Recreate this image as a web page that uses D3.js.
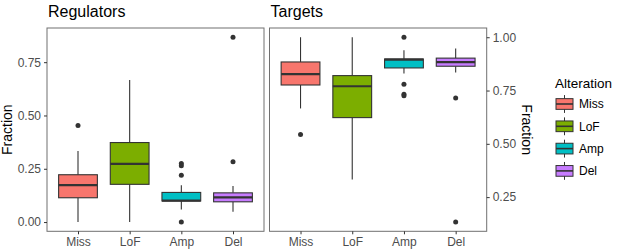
<!DOCTYPE html>
<html>
<head>
<meta charset="utf-8">
<script src="https://cdn.jsdelivr.net/npm/d3@7"></script>
<style>
  body { margin: 0; background: #fff; }
  text { font-family: 'Liberation Sans', Arial, sans-serif; }
</style>
</head>
<body>
<div id="chart"></div>
<script>
const categories = ['Miss', 'LoF', 'Amp', 'Del']
const colors = ['#F8766D', '#7CAE00', '#00BFC4', '#C77CFF']

// Regulators: Fuenf-Punkte-Zusammenfassung je Kategorie
const regLower = [0.000, 0.000, 0.059, 0.048]
const regQ1 = [0.114, 0.177, 0.099, 0.095]
const regMedian = [0.173, 0.273, 0.101, 0.116]
const regQ3 = [0.222, 0.373, 0.139, 0.137]
const regUpper = [0.333, 0.666, 0.173, 0.169]
const regOutliers = [[0.453], [], [0.275, 0.264, 0.219, 0.000], [0.283, 0.867]]

// Targets
const tarLower = [0.666, 0.333, 0.830, 0.835]
const tarQ1 = [0.776, 0.623, 0.856, 0.864]
const tarMedian = [0.827, 0.770, 0.895, 0.883]
const tarQ3 = [0.884, 0.820, 0.898, 0.902]
const tarUpper = [1.000, 1.000, 0.939, 0.947]
const tarOutliers = [[0.544], [], [1.000, 0.780, 0.733, 0.725], [0.715, 0.133]]

const yTicksLeft = [0, 0.25, 0.5, 0.75]
const yTicksRight = [0.25, 0.5, 0.75, 1]

const width = 617
const height = 251
const panelTop = 28
const panelBottom = 231.3
const boxWidth = 0.75
const lineColor = '#333333'

const toRows = (lower, q1, median, q3, upper, outliers) => categories.map((c, i) => ({
  cat: c,
  color: colors[i],
  lower: lower[i],
  q1: q1[i],
  median: median[i],
  q3: q3[i],
  upper: upper[i],
  outliers: outliers[i]
}))

const panels = [
  {
    title: 'Regulators', x0: 47, x1: 264, side: 'left', ticks: yTicksLeft,
    rows: toRows(regLower, regQ1, regMedian, regQ3, regUpper, regOutliers)
  },
  {
    title: 'Targets', x0: 269.5, x1: 486.7, side: 'right', ticks: yTicksRight,
    rows: toRows(tarLower, tarQ1, tarMedian, tarQ3, tarUpper, tarOutliers)
  }
]

const svg = d3.select('#chart').append('svg')
  .attr('width', width)
  .attr('height', height)

// wie ggplot: 5% Erweiterung des Datenbereichs
const expandedDomain = rows => {
  const vals = rows.flatMap(r => [r.lower, r.upper, ...r.outliers])
  const [lo, hi] = d3.extent(vals)
  const pad = (hi - lo) * 0.05
  return [lo - pad, hi + pad]
}

const fmt = d3.format('.2f')

panels.forEach(p => {
  const x = d3.scalePoint()
    .domain(categories)
    .range([p.x0, p.x1])
    .padding(0.6)
  const bw = x.step() * boxWidth

  const y = d3.scaleLinear()
    .domain(expandedDomain(p.rows))
    .range([panelBottom, panelTop])

  const g = svg.append('g')

  // Boxen
  const box = g.selectAll('g.box')
    .data(p.rows)
    .join('g')
    .attr('class', 'box')
    .attr('transform', d => `translate(${x(d.cat)},0)`)

  box.append('line')
    .attr('y1', d => y(d.upper))
    .attr('y2', d => y(d.q3))
    .attr('stroke', lineColor)
    .attr('stroke-width', 1.1)
  box.append('line')
    .attr('y1', d => y(d.q1))
    .attr('y2', d => y(d.lower))
    .attr('stroke', lineColor)
    .attr('stroke-width', 1.1)
  box.append('rect')
    .attr('x', -bw / 2)
    .attr('width', bw)
    .attr('y', d => y(d.q3))
    .attr('height', d => y(d.q1) - y(d.q3))
    .attr('fill', d => d.color)
    .attr('stroke', lineColor)
    .attr('stroke-width', 1.1)
  box.append('line')
    .attr('x1', -bw / 2)
    .attr('x2', bw / 2)
    .attr('y1', d => y(d.median))
    .attr('y2', d => y(d.median))
    .attr('stroke', lineColor)
    .attr('stroke-width', 2.2)
  box.selectAll('circle')
    .data(d => d.outliers)
    .join('circle')
    .attr('cy', v => y(v))
    .attr('r', 2.5)
    .attr('fill', lineColor)

  // Rahmen
  g.append('rect')
    .attr('x', p.x0)
    .attr('y', panelTop)
    .attr('width', p.x1 - p.x0)
    .attr('height', panelBottom - panelTop)
    .attr('fill', 'none')
    .attr('stroke', '#707070')
    .attr('stroke-width', 1)

  // x-Achse
  const xa = g.append('g')
    .attr('transform', `translate(0,${panelBottom})`)
    .call(d3.axisBottom(x).tickSize(3).tickPadding(3))
  xa.select('.domain').remove()

  // y-Achse
  const axis = p.side === 'left' ? d3.axisLeft(y) : d3.axisRight(y)
  const ya = g.append('g')
    .attr('transform', `translate(${p.side === 'left' ? p.x0 : p.x1},0)`)
    .call(axis.tickValues(p.ticks).tickFormat(fmt).tickSize(3).tickPadding(3))
  ya.select('.domain').remove()

  g.selectAll('.tick line').attr('stroke', lineColor)
  g.selectAll('.tick text')
    .attr('fill', '#4d4d4d')
    .style('font-size', '12px')
    .style('font-family', "'Liberation Sans', Arial, sans-serif")

  // Titel
  g.append('text')
    .attr('x', p.x0 + 1)
    .attr('y', 17)
    .attr('fill', '#000')
    .style('font-size', '16px')
    .text(p.title)
})

// Achsentitel
svg.append('text')
  .attr('transform', `translate(12,${(panelTop + panelBottom) / 2}) rotate(-90)`)
  .attr('text-anchor', 'middle')
  .style('font-size', '14px')
  .text('Fraction')

svg.append('text')
  .attr('transform', `translate(522,${(panelTop + panelBottom) / 2}) rotate(90)`)
  .attr('text-anchor', 'middle')
  .style('font-size', '14px')
  .text('Fraction')

// Legende
const legend = svg.append('g').attr('transform', 'translate(555,0)')
legend.append('text')
  .attr('x', 0)
  .attr('y', 88)
  .style('font-size', '13.5px')
  .text('Alteration')

const keyH = 22.3
const keyW = 17
const key = legend.selectAll('g.key')
  .data(categories.map((c, i) => ({cat: c, color: colors[i]})))
  .join('g')
  .attr('class', 'key')
  .attr('transform', (d, i) => `translate(1,${104 + i * keyH})`)

key.append('line')
  .attr('x1', keyW / 2).attr('x2', keyW / 2)
  .attr('y1', -keyH * 0.4).attr('y2', keyH * 0.4)
  .attr('stroke', lineColor)
key.append('rect')
  .attr('x', 0)
  .attr('width', keyW)
  .attr('y', -keyH * 0.24)
  .attr('height', keyH * 0.48)
  .attr('fill', d => d.color)
  .attr('stroke', lineColor)
key.append('line')
  .attr('x1', 0).attr('x2', keyW)
  .attr('y1', 0).attr('y2', 0)
  .attr('stroke', lineColor)
  .attr('stroke-width', 1.6)
key.append('text')
  .attr('x', keyW + 6)
  .attr('dy', '0.36em')
  .style('font-size', '12px')
  .text(d => d.cat)
</script>
</body>
</html>
